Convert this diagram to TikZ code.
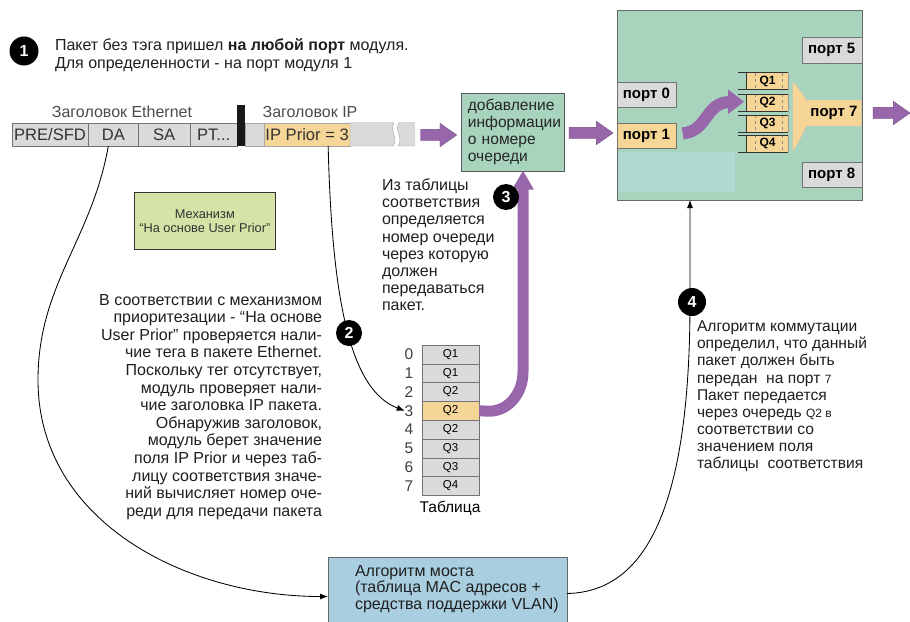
\documentclass[tikz,border=0pt]{standalone}
\usepackage{fontspec}
\setmainfont{Liberation Sans}
\usetikzlibrary{arrows.meta,shapes.arrows}

\definecolor{cellgray}{RGB}{218,218,218}
\definecolor{prioyellow}{RGB}{246,214,150}
\definecolor{arrowpurple}{RGB}{152,102,170}
\definecolor{mint}{RGB}{168,212,190}
\definecolor{mintlight}{RGB}{178,217,208}
\definecolor{bridgeblue}{RGB}{168,206,224}
\definecolor{mechgreen}{RGB}{212,228,166}

\begin{document}
\begin{tikzpicture}[x=1pt,y=-1pt,
  every node/.style={inner sep=0pt, outer sep=0pt},
  body/.style={font=\fontsize{16}{17.6}\selectfont, text=black!88},
  hdr/.style={font=\fontsize{16}{16}\selectfont, text=black!70},
  cell/.style={draw=black!55, fill=cellgray, minimum height=23.3pt, anchor=north west,
               font=\fontsize{16.6}{16.6}\selectfont, text=black!80},
  port/.style={draw=black!55, fill=cellgray, anchor=north west, minimum width=59.5pt,
               minimum height=25.5pt, font=\fontsize{15}{15}\selectfont\bfseries},
  qbox/.style={fill=prioyellow, anchor=north west, minimum width=41.6pt, minimum height=17pt,
               font=\fontsize{12}{12}\selectfont\bfseries},
  tcell/.style={draw=black!55, fill=cellgray, anchor=north west, minimum width=57.6pt,
                minimum height=18.8pt, font=\fontsize{11.5}{11.5}\selectfont},
  tnum/.style={font=\fontsize{15.5}{15.5}\selectfont, text=black!75},
  numcirc/.style={circle, fill=black, text=white, minimum size=#1,
                  font=\fontsize{16}{16}\selectfont\bfseries},
  numcirc/.default=26pt,
  blockarrow/.style={single arrow, fill=arrowpurple, draw=arrowpurple!75!black, line width=0.4pt,
                     minimum height=#1, minimum width=23pt, single arrow head extend=6pt,
                     single arrow tip angle=70, inner sep=5.5pt, anchor=west},
  link/.style={draw=black, line width=0.85pt, -{Latex[length=8pt,width=6pt]}},
  band/.style={draw=arrowpurple, line width=11pt},
]
\useasboundingbox (0,0) rectangle (910,621);
\fill[white] (0,0) rectangle (910,621);

% ---- step 1: incoming packet
\node[numcirc=29pt] (c1) at (24,51) {1};
\node[body, anchor=north west, align=left, font=\fontsize{16}{18}\selectfont] (intro) at (55,39)
  {Пакет без тэга пришел \textbf{на любой порт} модуля.\\Для определенности - на порт модуля 1};

\node[hdr] (ethhdr) at (122,112) {Заголовок Ethernet};
\node[hdr] (iphdr) at (310,112) {Заголовок IP};

\node[cell, minimum width=76.6pt] (pre) at (11.7,122.7) {PRE/SFD};
\node[cell, minimum width=50pt] (da) at (88.3,122.7) {DA};
\node[cell, minimum width=51.7pt] (sa) at (138.3,122.7) {SA};
\node[cell, minimum width=47.3pt] (pt) at (190,122.7) {PT...};
\node[cell, minimum width=19.3pt, draw=black!35] (gapcell) at (245,122.7) {};
\node[cell, minimum width=85.7pt, fill=prioyellow, draw=black!35] (ipprior) at (264.3,122.7) {IP Prior = 3};
% tail of the packet with a break
\filldraw[fill=cellgray, draw=black!35, line width=0.4pt]
  (350,122.7) -- (394,122.7) .. controls (389,131) and (399,139) .. (393,146) -- (350,146) -- cycle;
\fill[cellgray] (399,122.7) .. controls (394,131) and (404,139) .. (398,146) -- (415,146) -- (415,122.7) -- cycle;
\draw[black!35, line width=0.4pt] (415,122.7) -- (399,122.7) .. controls (394,131) and (404,139) .. (398,146) -- (415,146);
% separator between Ethernet and IP headers
\fill[black!90] (237.3,105) rectangle (245,146);

\node[blockarrow=36pt] (arr1) at (420.7,135) {};

\node[draw=black!65, fill=mint, anchor=north west, minimum width=103.3pt, minimum height=78pt,
      align=left, text width=89pt, inner xsep=7pt, font=\fontsize{15.6}{17}\selectfont, text=black!85]
  (addinfo) at (460.7,92.7) {добавление\\информации\\о номере\\очереди};

\node[blockarrow=44pt] (arr2) at (569,133) {};

% ---- switch module
\node[draw=black!60, fill=mint, anchor=north west, minimum width=245pt, minimum height=190pt]
  (switch) at (617,10) {};
\fill[mintlight] (617.5,151.7) rectangle (735,191.7);
\node[port] (p0) at (616.7,81.7) {порт 0};
\node[port, fill=prioyellow] (p1) at (616.7,122.7) {порт 1};
\node[port, minimum width=60pt] (p5) at (801.7,37.3) {порт 5};
\node[port, minimum width=60pt] (p8) at (801.7,161.7) {порт 8};
\filldraw[fill=prioyellow, draw=black!25, line width=0.4pt]
  (792.7,81.7) .. controls (799,88) and (803,94) .. (806.7,100) -- (861.7,100) -- (861.7,126)
  -- (806.7,126) .. controls (803,133) and (799,143) .. (792.7,151.7) -- cycle;
\node[font=\fontsize{15}{15}\selectfont\bfseries] (p7) at (834,113) {порт 7};

\foreach \q/\t in {1/72.7, 2/94, 3/115, 4/135}{
  \node[qbox] (q\q) at (746.7,\t) {Q\q};
  \draw[black!45, line width=0.4pt, dashed] (755,\t) -- ++(0,17) (781.7,\t) -- ++(0,17);
  \draw[black!80, line width=0.6pt] (738.3,\t) -- (788.3,\t) (738.3,\t+17) -- (788.3,\t+17)
        (746.7,\t) -- ++(0,17);
  \draw[black!40, line width=0.4pt] (788.3,\t) -- ++(0,17);
}
% packet path inside the switch
\draw[band, line width=12pt] (p1.east) ++(6.5,-2) .. controls (708,131) and (705,103) .. (729,102);
\fill[arrowpurple] (728,89.5) -- (744,101.7) -- (728,114) -- cycle;

\node[blockarrow=37pt] (arr3) at (873,113) {};

% ---- mechanism label
\node[draw=black!80, fill=mechgreen, anchor=north west, minimum width=141.7pt, minimum height=57pt,
      align=center, font=\fontsize{12.8}{14}\selectfont, text=black!80, line width=0.8pt]
  (mech) at (134,192.3) {Механизм\\“На основе User Prior”};

% ---- step 2 explanation
\node[body, anchor=north east, align=right] (expl2) at (322,294)
  {В соответствии с механизмом\\приоритезации - “На основе\\User Prior” проверяется нали-\\
   чие тега в пакете Ethernet.\\Поскольку тег отсутствует,\\модуль проверяет нали-\\
   чие заголовка IP пакета.\\Обнаружив заголовок,\\модуль берет значение\\
   поля IP Prior и через таб-\\лицу соответствия значе-\\ний вычисляет номер оче-\\
   реди для передачи пакета};

% ---- mapping table
\foreach \i/\qq in {0/1,1/1,2/2,3/2,4/2,5/3,6/3,7/4}{
  \node[tcell] (tr\i) at (421.7,345+18.8*\i) {Q\qq};
  \node[tnum] (n\i) at (409,354.4+18.8*\i) {\i};
}
\node[tcell, fill=prioyellow] (tr3) at (421.7,345+18.8*3) {Q2};
\node[font=\fontsize{15.5}{15.5}\selectfont] (tabl) at (450,508) {Таблица};

% IP Prior value looked up in the table
\draw[link] ([xshift=21pt]ipprior.south) .. controls (332,300) and (350,390) .. (n3.west);
\node[numcirc=26pt] (c2) at (349,333) {2};

% ---- step 3: queue number chosen from the table
\coordinate (vx) at (523,0);
\draw[band] (tr3.east) -- (489,411.2) to[out=0,in=-90] (523,372) -- (523,189);
\fill[arrowpurple] ([xshift=-11pt,yshift=-19pt]addinfo.south -| vx) -- (addinfo.south -| vx)
   -- ([xshift=11pt,yshift=-19pt]addinfo.south -| vx) -- cycle;
\node[numcirc=26pt] (c3) at (506,197) {3};
\node[body, anchor=north west, align=left, font=\fontsize{16}{17.1}\selectfont] (expl3) at (382,179)
  {Из таблицы\\соответствия\\определяется\\номер очереди\\через которую\\должен\\передаваться\\пакет.};

% ---- bridge algorithm
\node[draw=black!60, fill=bridgeblue, anchor=north west, minimum width=239pt, minimum height=72pt]
  (bridge) at (328,557.5) {};
\node[body, anchor=north west, align=left, font=\fontsize{16}{16.5}\selectfont] (bridgetxt) at (355,565)
  {Алгоритм моста\\(таблица MAC адресов +\\средства поддержки VLAN)};

% destination address goes to the bridge algorithm
\draw[link] ([xshift=-5pt]da.south) to[out=-100,in=90] (38,380) to[out=-90,in=180] ([yshift=-3pt]bridge.west);

% ---- step 4: switching decision
\coordinate (c4pos) at (690,302);
\draw[link] (bridge.east) .. controls (640,592) and (690,520) .. (c4pos) -- (switch.south -| c4pos);
\node[numcirc=28pt] (c4) at (692,302) {4};
\node[body, anchor=north west, align=left, font=\fontsize{15.6}{17.1}\selectfont] (expl4) at (697,321)
  {Алгоритм коммутации\\определил, что данный\\пакет должен быть\\
   передан\ \ на порт {\fontsize{12}{17.1}\selectfont 7}\\Пакет передается\\
   через очередь {\fontsize{12}{17.1}\selectfont Q2 в}\\соответствии со\\значением поля\\
   таблицы\ \ соответствия};
\end{tikzpicture}
\end{document}
